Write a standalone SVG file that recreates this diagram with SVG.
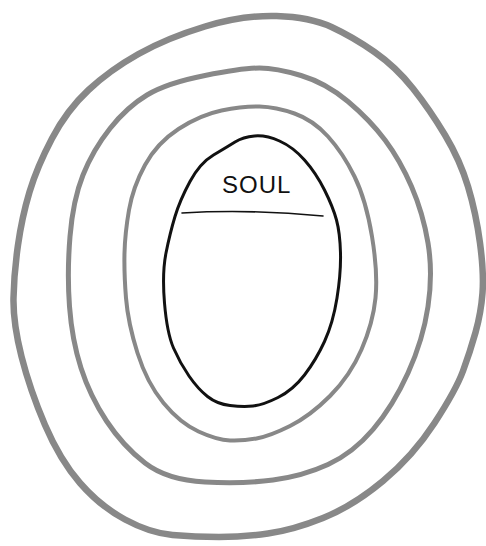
<svg xmlns="http://www.w3.org/2000/svg" width="486" height="546" viewBox="0 0 486 546">
  <style>
    .ring { fill: none; stroke: #888888; stroke-linejoin: round; stroke-linecap: round; }
    .outer { stroke-width: 6.5; }
    .middle { stroke-width: 5; }
    .inner { stroke-width: 4; }
    .soul { fill: none; stroke: #111111; stroke-width: 3; stroke-linejoin: round; }
    .divider { fill: none; stroke: #111111; stroke-width: 1.6; stroke-linecap: round; }
    .label { font-family: "Liberation Sans", Arial, sans-serif; font-size: 24px; fill: #111111; letter-spacing: 1px; }
  </style>
  <rect width="486" height="546" fill="#ffffff"/>
  <g id="ring-outer">
    <path class="ring outer" d="M205,26.5 Q243,15 276.5,16 Q310,17 331.5,27 Q353,37 374.5,52 Q396,67 413,88.5 Q430,110 445,135 Q460,160 468,186.5 Q476,213 480,243 Q484,273 482.5,293 Q481,313 475.5,332.5 Q470,352 463,371 Q456,390 434.5,423 Q413,456 383,481 Q353,506 323,518 Q293,530 268,533.5 Q243,537 219,537 Q195,537 172.5,535 Q150,533 125,519.5 Q100,506 80,483 Q60,460 45,425 Q30,390 21.5,356.5 Q13,323 13.5,298 Q14,273 18,245 Q22,217 29.5,192 Q37,167 52,138.5 Q67,110 88.5,90 Q110,70 138.5,54 Q167,38 205,26.5 Z"/>
  </g>
  <g id="ring-middle">
    <path class="ring middle" d="M205,75.5 Q243,68 259.5,68 Q276,68 301,75.5 Q326,83 348,101.5 Q370,120 385,140 Q400,160 411.5,186.5 Q423,213 428,243 Q433,273 428,306.5 Q423,340 408,373 Q393,406 373,429.5 Q353,453 328,464.5 Q303,476 273,480 Q243,484 205,482 Q167,480 145,463 Q123,446 106.5,421 Q90,396 81,368 Q72,340 69.5,306.5 Q67,273 70,236.5 Q73,200 83,175 Q93,150 110,128.5 Q127,107 147,95 Q167,83 205,75.5 Z"/>
  </g>
  <g id="ring-inner">
    <path class="ring inner" d="M221.5,110.5 Q243,106 259.5,106.5 Q276,107 294.5,113.5 Q313,120 328,136.5 Q343,153 354.5,176.5 Q366,200 372,236.5 Q378,273 375.5,298 Q373,323 361.5,349.5 Q350,376 330,396 Q310,416 290,426 Q270,436 256.5,438.5 Q243,441 230,440.5 Q217,440 198.5,431.5 Q180,423 163.5,403 Q147,383 137.5,353 Q128,323 126,298 Q124,273 124.5,253 Q125,233 129,210 Q133,187 145,165 Q157,143 178.5,129 Q200,115 221.5,110.5 Z"/>
  </g>
  <g id="soul">
    <path class="soul" d="M235,142 Q243,137 254.5,136 Q266,135 279.5,141 Q293,147 304.5,160 Q316,173 324.5,190 Q333,207 336.5,220 Q340,233 340.5,253 Q341,273 337,298 Q333,323 324.5,341.5 Q316,360 304.5,375 Q293,390 278,397.5 Q263,405 253,406 Q243,407 230,405.5 Q217,404 207.5,396.5 Q198,389 189,376 Q180,363 173.5,348 Q167,333 164.5,303 Q162,273 166,253 Q170,233 175,216.5 Q180,200 190,181.5 Q200,163 213.5,155 Q227,147 235,142 Z"/>
    <text class="label" x="222" y="193">SOUL</text>
    <path class="divider" d="M182,213 Q250,209 323,216"/>
  </g>
</svg>
